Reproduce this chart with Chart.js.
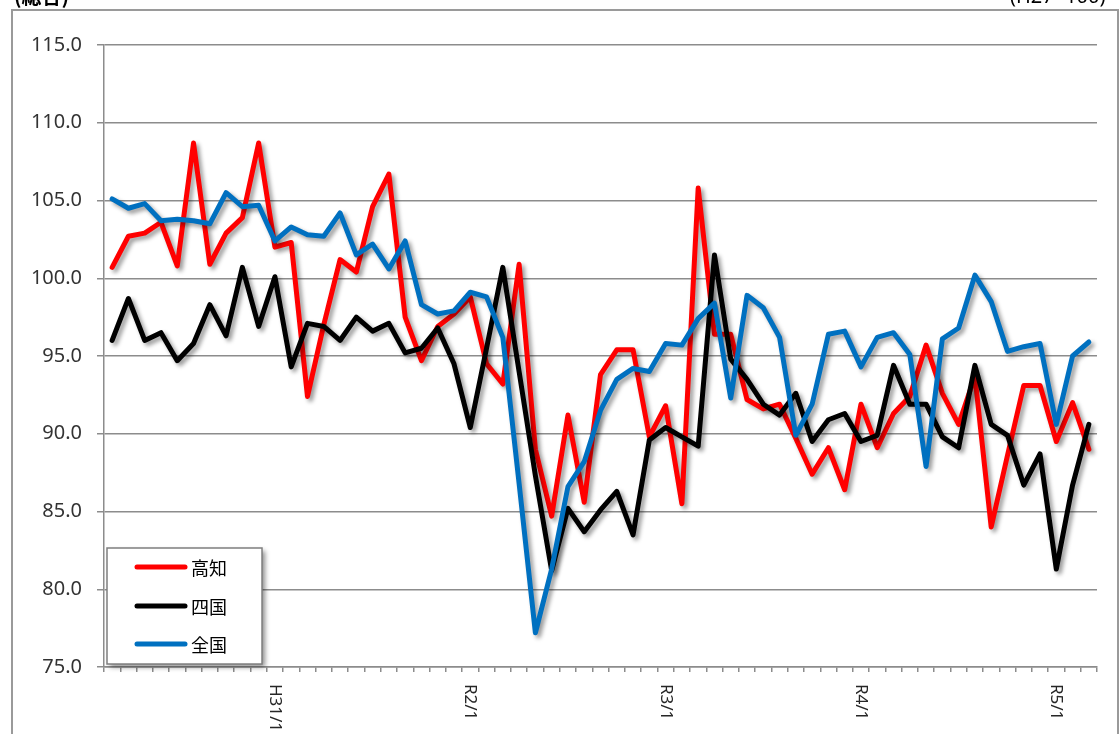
<!DOCTYPE html>
<html>
<head>
<meta charset="utf-8">
<script src="https://cdn.jsdelivr.net/npm/chart.js@4/dist/chart.umd.min.js"></script>
<style>
  html, body { margin: 0; padding: 0; background: #ffffff; }
  #wrap { width: 1120px; height: 734px; position: relative; }
</style>
</head>
<body>
<div id="wrap"><canvas id="c"></canvas></div>
<script>
// ---- data ----
const categories = [
  'H30/3','H30/4','H30/5','H30/6','H30/7','H30/8','H30/9','H30/10','H30/11','H30/12',
  'H31/1','H31/2','H31/3','H31/4','R1/5','R1/6','R1/7','R1/8','R1/9','R1/10','R1/11','R1/12',
  'R2/1','R2/2','R2/3','R2/4','R2/5','R2/6','R2/7','R2/8','R2/9','R2/10','R2/11','R2/12',
  'R3/1','R3/2','R3/3','R3/4','R3/5','R3/6','R3/7','R3/8','R3/9','R3/10','R3/11','R3/12',
  'R4/1','R4/2','R4/3','R4/4','R4/5','R4/6','R4/7','R4/8','R4/9','R4/10','R4/11','R4/12',
  'R5/1','R5/2','R5/3'
];
const tickLabels = ['H31/1','R2/1','R3/1','R4/1','R5/1'];
const kochi = [
  100.7,102.7,102.9,103.6,100.8,108.7,100.9,102.9,103.9,108.7,
  102.0,102.3,92.4,97.0,101.2,100.4,104.6,106.7,97.5,94.7,96.9,97.7,
  98.8,94.5,93.2,100.9,89.0,84.7,91.2,85.6,93.8,95.4,95.4,89.8,
  91.8,85.5,105.8,96.4,96.4,92.2,91.6,91.9,89.7,87.4,89.1,86.4,
  91.9,89.1,91.3,92.4,95.7,92.6,90.6,93.7,84.0,88.6,93.1,93.1,
  89.5,92.0,89.0
];
const shikoku = [
  96.0,98.7,96.0,96.5,94.7,95.8,98.3,96.3,100.7,96.9,
  100.1,94.3,97.1,96.9,96.0,97.5,96.6,97.1,95.2,95.5,96.8,94.5,
  90.4,95.5,100.7,94.0,87.3,81.2,85.2,83.7,85.1,86.3,83.5,89.6,
  90.4,89.8,89.2,101.5,94.8,93.5,91.9,91.2,92.6,89.5,90.9,91.3,
  89.5,89.9,94.4,91.9,91.9,89.8,89.1,94.4,90.6,89.9,86.7,88.7,
  81.3,86.7,90.6
];
const zenkoku = [
  105.1,104.5,104.8,103.7,103.8,103.7,103.5,105.5,104.6,104.7,
  102.4,103.3,102.8,102.7,104.2,101.5,102.2,100.6,102.4,98.3,97.7,97.9,
  99.1,98.8,96.2,86.8,77.2,81.3,86.6,88.2,91.5,93.5,94.2,94.0,
  95.8,95.7,97.4,98.4,92.3,98.9,98.1,96.2,89.9,91.9,96.4,96.6,
  94.3,96.2,96.5,95.1,87.9,96.1,96.8,100.2,98.5,95.3,95.6,95.8,
  90.6,95.0,95.9
];
const seriesNames = ['高知','四国','全国'];
const seriesColors = ['#ff0000','#000000','#0070c0'];

const gridColor = '#8c8c8c';

// ---- plugins ----
const framePlugin = {
  id: 'frame',
  beforeDraw(chart) {
    const ctx = chart.ctx;
    ctx.save();
    ctx.fillStyle = '#ffffff';
    ctx.fillRect(0, 0, chart.width, chart.height);
    ctx.strokeStyle = '#9a9a9a';
    ctx.lineWidth = 2;
    ctx.strokeRect(12, 10, 1106, 760);
    ctx.fillStyle = '#000000';
    ctx.font = 'bold 20px "Noto Sans CJK JP"';
    ctx.textBaseline = 'alphabetic';
    ctx.textAlign = 'left';
    ctx.fillText('(総合)', 14, 4);
    ctx.font = '20px "Noto Sans"';
    ctx.fillText('(H27=100)', 1010, 3);
    ctx.restore();
  }
};

const shadowPlugin = {
  id: 'lineShadow',
  beforeDatasetDraw(chart) {
    const ctx = chart.ctx;
    ctx.save();
    ctx.shadowColor = 'rgba(0,0,0,0.4)';
    ctx.shadowBlur = 4;
    ctx.shadowOffsetX = 3;
    ctx.shadowOffsetY = 3;
  },
  afterDatasetDraw(chart) {
    chart.ctx.restore();
  }
};

const labelsPlugin = {
  id: 'xLabels',
  afterDraw(chart) {
    const ctx = chart.ctx;
    const xs = chart.scales.x;
    ctx.save();
    ctx.fillStyle = '#262626';
    ctx.font = '17px "Noto Sans"';
    ctx.textAlign = 'left';
    ctx.textBaseline = 'middle';
    tickLabels.forEach(lbl => {
      const i = categories.indexOf(lbl);
      const x = xs.getPixelForValue(i);
      ctx.save();
      ctx.translate(x, xs.top + 17);
      ctx.rotate(Math.PI / 2);
      ctx.fillText(lbl, 0, 0);
      ctx.restore();
    });
    ctx.restore();
  }
};

const legendPlugin = {
  id: 'boxLegend',
  afterDraw(chart) {
    const ctx = chart.ctx;
    const bx = 107, by = 548, bw = 155, bh = 116;
    ctx.save();
    ctx.shadowColor = 'rgba(0,0,0,0.45)';
    ctx.shadowBlur = 5;
    ctx.shadowOffsetX = 3;
    ctx.shadowOffsetY = 3;
    ctx.fillStyle = '#ffffff';
    ctx.fillRect(bx, by, bw, bh);
    ctx.restore();
    ctx.save();
    ctx.strokeStyle = '#7f7f7f';
    ctx.lineWidth = 1.5;
    ctx.strokeRect(bx, by, bw, bh);
    const ys = [567, 606, 644];
    ctx.font = '18px "Noto Sans CJK JP"';
    ctx.textAlign = 'left';
    ctx.textBaseline = 'middle';
    seriesNames.forEach((name, k) => {
      ctx.strokeStyle = seriesColors[k];
      ctx.lineWidth = 5;
      ctx.lineCap = 'round';
      ctx.beginPath();
      ctx.moveTo(137, ys[k]);
      ctx.lineTo(185, ys[k]);
      ctx.stroke();
      ctx.fillStyle = '#000000';
      ctx.fillText(name, 191, ys[k] + 1);
    });
    ctx.restore();
  }
};

const seriesData = [kochi, shikoku, zenkoku];
const datasets = seriesNames.map((name, k) => ({
  label: name,
  data: seriesData[k],
  borderColor: seriesColors[k],
  backgroundColor: seriesColors[k],
  borderWidth: 5,
  pointRadius: 0,
  pointHoverRadius: 0,
  tension: 0,
  fill: false,
  borderJoinStyle: 'round',
  borderCapStyle: 'round',
  order: 3 - k
}));

new Chart(document.getElementById('c'), {
  type: 'line',
  data: { labels: categories, datasets },
  options: {
    responsive: true,
    maintainAspectRatio: false,
    animation: false,
    events: [],
    layout: { padding: { top: 45, right: 23, left: 0, bottom: 0 } },
    plugins: {
      legend: { display: false },
      tooltip: { enabled: false },
      title: { display: false }
    },
    scales: {
      x: {
        type: 'category',
        offset: true,
        grid: {
          offset: true,
          drawOnChartArea: false,
          drawTicks: true,
          tickLength: 5,
          color: gridColor,
          lineWidth: 1.5
        },
        border: { display: true, color: gridColor, width: 1.5 },
        ticks: { display: false },
        afterFit(scale) { scale.height = 67; }
      },
      y: {
        min: 75,
        max: 115,
        ticks: {
          stepSize: 5,
          color: '#333333',
          font: { family: '"Noto Sans"', size: 20 },
          padding: 15,
          callback: v => Number(v).toFixed(1)
        },
        grid: {
          color: gridColor,
          lineWidth: 1.5,
          tickLength: 7,
          drawTicks: true
        },
        border: { display: true, color: gridColor, width: 1.5 },
        afterFit(scale) { scale.width = 104; }
      }
    }
  },
  plugins: [framePlugin, shadowPlugin, labelsPlugin, legendPlugin]
});
</script>
</body>
</html>
